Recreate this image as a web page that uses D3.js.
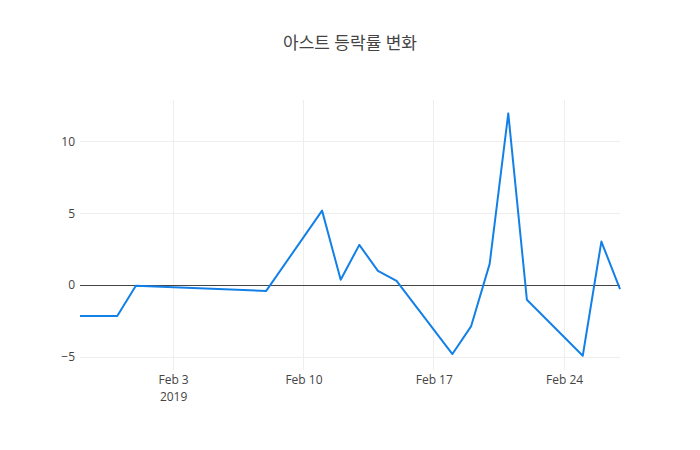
<!DOCTYPE html>
<html>
<head>
<meta charset="utf-8">
<script src="https://cdn.jsdelivr.net/npm/d3@7"></script>
<style>
  body { margin: 0; background: #fff; }
  svg text { font-family: "Open Sans", "Noto Sans CJK KR", sans-serif; }
</style>
</head>
<body>
<div id="chart"></div>
<script>
// daily change rate (%)
const dates = [
  '2019-01-29', '2019-01-31', '2019-02-01', '2019-02-08', '2019-02-11',
  '2019-02-12', '2019-02-13', '2019-02-14', '2019-02-15', '2019-02-18',
  '2019-02-19', '2019-02-20', '2019-02-21', '2019-02-22', '2019-02-25',
  '2019-02-26', '2019-02-27'
];
const rates = [
  -2.15, -2.15, -0.05, -0.4, 5.18,
  0.37, 2.8, 0.99, 0.3, -4.79,
  -2.87, 1.48, 11.94, -1.02, -4.91,
  3.03, -0.28
];
const yTicks = [-5, 0, 5, 10];
const xTicks = ['2019-02-03', '2019-02-10', '2019-02-17', '2019-02-24'];
const title = '아스트 등락률 변화';

const width = 700, height = 450;
const margin = { top: 100, right: 80, bottom: 80, left: 80 };
const parse = d3.timeParse('%Y-%m-%d');
const data = dates.map((d, i) => ({ date: parse(d), value: rates[i] }));

const svg = d3.select('#chart').append('svg')
  .attr('width', width).attr('height', height);

const x = d3.scaleTime()
  .domain(d3.extent(data, d => d.date))
  .range([margin.left, width - margin.right]);
const y = d3.scaleLinear()
  .domain([-5.9, 12.87])
  .range([height - margin.bottom, margin.top]);

// grid
svg.append('g')
  .attr('shape-rendering', 'crispEdges')
  .selectAll('line')
  .data(xTicks.map(parse))
  .join('line')
  .attr('x1', d => x(d)).attr('x2', d => x(d))
  .attr('y1', margin.top).attr('y2', height - margin.bottom)
  .attr('stroke', '#eee').attr('stroke-width', 1);

svg.append('g')
  .attr('shape-rendering', 'crispEdges')
  .selectAll('line')
  .data(yTicks.filter(t => t !== 0))
  .join('line')
  .attr('x1', margin.left).attr('x2', width - margin.right)
  .attr('y1', d => y(d)).attr('y2', d => y(d))
  .attr('stroke', '#eee').attr('stroke-width', 1);

// zero line
svg.append('line')
  .attr('shape-rendering', 'crispEdges')
  .attr('x1', margin.left).attr('x2', width - margin.right)
  .attr('y1', y(0)).attr('y2', y(0))
  .attr('stroke', '#444').attr('stroke-width', 1);

// axes
const fmt = d3.timeFormat('%b %-d');
const xAxis = d3.axisBottom(x)
  .tickValues(xTicks.map(parse))
  .tickSize(0).tickPadding(5)
  .tickFormat(fmt);
const gx = svg.append('g')
  .attr('transform', `translate(0,${height - margin.bottom})`)
  .call(xAxis);
gx.select('.domain').remove();
gx.selectAll('text').attr('fill', '#444').attr('font-size', 12);
gx.selectAll('.tick')
  .filter((d, i) => i === 0)
  .append('text')
  .attr('y', 22).attr('dy', '0.71em')
  .attr('text-anchor', 'middle')
  .attr('fill', '#444').attr('font-size', 12)
  .text('2019');

const yAxis = d3.axisLeft(y)
  .tickValues(yTicks)
  .tickSize(0).tickPadding(3)
  .tickFormat(d => d < 0 ? '\u2212' + Math.abs(d) : d);
const gy = svg.append('g')
  .attr('transform', `translate(${margin.left - 2},0)`)
  .call(yAxis);
gy.select('.domain').remove();
gy.selectAll('text').attr('fill', '#444').attr('font-size', 12);

// line
const line = d3.line()
  .x(d => x(d.date))
  .y(d => y(d.value));

svg.append('path')
  .datum(data)
  .attr('fill', 'none')
  .attr('stroke', '#1380e8')
  .attr('stroke-width', 2)
  .attr('stroke-linejoin', 'round')
  .attr('d', line);

// title
svg.append('text')
  .attr('x', width / 2)
  .attr('y', 49)
  .attr('text-anchor', 'middle')
  .attr('fill', '#444')
  .attr('font-size', 17)
  .text(title);
</script>
</body>
</html>
